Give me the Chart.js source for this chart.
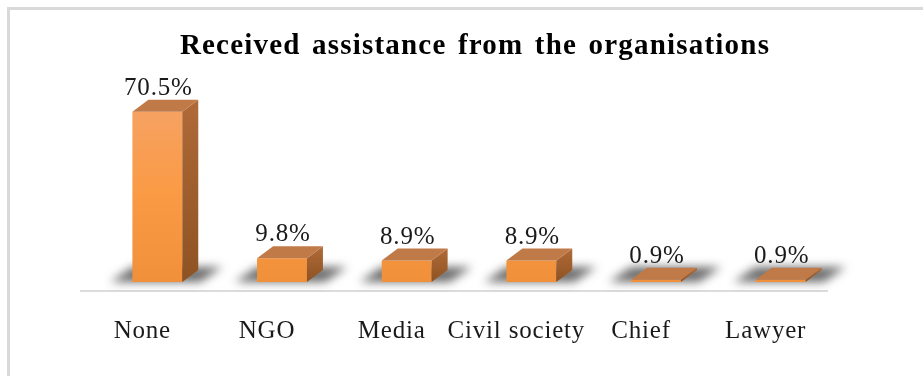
<!DOCTYPE html>
<html>
<head>
<meta charset="utf-8">
<title>Received assistance from the organisations</title>
<script src="https://cdn.jsdelivr.net/npm/chart.js@4"></script>
<style>
  html, body { margin: 0; padding: 0; background: #fff; }
  canvas { display: block; }
</style>
</head>
<body>
<canvas id="barChart" width="923" height="376"></canvas>
<script>
const categories = ['None', 'NGO', 'Media', 'Civil society', 'Chief', 'Lawyer'];
const percentages = [70.5, 9.8, 8.9, 8.9, 0.9, 0.9];
const chartTitle = 'Received assistance from the organisations';

const SERIF = '"Liberation Serif", "Times New Roman", serif';
const SPACING = '0.8px';
const DEPTH_X = 16;
const DEPTH_Y = 12;

// box outline, title, floor, shadows and the extra faces that make the bars look solid
const solidBars = {
  id: 'solidBars',
  beforeLayout(chart) {
    chart.ctx.letterSpacing = SPACING;
  },
  beforeDraw(chart) {
    const ctx = chart.ctx;
    ctx.letterSpacing = SPACING;
    ctx.save();
    ctx.fillStyle = '#d9d9d9';
    ctx.fillRect(7, 7, chart.width - 7, 3);
    ctx.fillRect(7, 7, 3, chart.height - 7);

    ctx.fillStyle = '#000';
    ctx.font = 'bold 29px ' + SERIF;
    ctx.letterSpacing = '1.2px';
    ctx.wordSpacing = '3px';
    ctx.textAlign = 'center';
    ctx.textBaseline = 'middle';
    ctx.fillText(chartTitle, 475, 47);
    ctx.restore();
  },
  beforeDatasetsDraw(chart) {
    const ctx = chart.ctx;
    const xs = chart.scales.x;
    const bottom = chart.chartArea.bottom;
    ctx.save();
    // floor line
    ctx.strokeStyle = '#dcdcdc';
    ctx.lineWidth = 2;
    ctx.beginPath();
    ctx.moveTo(xs.left - 15, bottom + 9);
    ctx.lineTo(xs.right - 15, bottom + 9);
    ctx.stroke();
    // soft shadows behind each bar
    ctx.filter = 'blur(5px)';
    ctx.fillStyle = 'rgba(45,45,45,0.7)';
    chart.getDatasetMeta(0).data.forEach(bar => {
      const l = bar.x - bar.width / 2;
      const r = bar.x + bar.width / 2;
      ctx.beginPath();
      ctx.moveTo(l - 22, bottom);
      ctx.lineTo(r + DEPTH_X + 2, bottom);
      ctx.lineTo(r + DEPTH_X + 24, bottom - DEPTH_Y - 3);
      ctx.lineTo(l, bottom - DEPTH_Y - 3);
      ctx.closePath();
      ctx.fill();
    });
    ctx.restore();
  },
  afterDatasetsDraw(chart) {
    const ctx = chart.ctx;
    const bottom = chart.chartArea.bottom;
    const values = chart.data.datasets[0].data;
    ctx.save();
    chart.getDatasetMeta(0).data.forEach((bar, i) => {
      const l = bar.x - bar.width / 2;
      const r = bar.x + bar.width / 2;
      const top = bar.y;
      // side face
      const side = ctx.createLinearGradient(0, top - DEPTH_Y, 0, bottom);
      side.addColorStop(0, '#b06a38');
      side.addColorStop(1, '#8e5222');
      ctx.fillStyle = side;
      ctx.beginPath();
      ctx.moveTo(r, top);
      ctx.lineTo(r + DEPTH_X, top - DEPTH_Y);
      ctx.lineTo(r + DEPTH_X, bottom - DEPTH_Y);
      ctx.lineTo(r, bottom);
      ctx.closePath();
      ctx.fill();
      // top face
      ctx.fillStyle = '#c07a48';
      ctx.beginPath();
      ctx.moveTo(l, top);
      ctx.lineTo(r, top);
      ctx.lineTo(r + DEPTH_X, top - DEPTH_Y);
      ctx.lineTo(l + DEPTH_X, top - DEPTH_Y);
      ctx.closePath();
      ctx.fill();
      // value label
      ctx.fillStyle = '#1a1a1a';
      ctx.font = '25px ' + SERIF;
      ctx.letterSpacing = SPACING;
      ctx.textAlign = 'center';
      ctx.textBaseline = 'bottom';
      ctx.fillText(values[i].toFixed(1) + '%', bar.x + 1, top - DEPTH_Y + 1);
    });
    ctx.restore();
  }
};

new Chart(document.getElementById('barChart'), {
  type: 'bar',
  data: {
    labels: categories,
    datasets: [{
      data: percentages,
      borderWidth: 0,
      backgroundColor(c) {
        const area = c.chart.chartArea;
        if (!area) return '#f79646';
        const g = c.chart.ctx.createLinearGradient(0, area.top, 0, area.bottom);
        g.addColorStop(0, '#f6a263');
        g.addColorStop(0.5, '#fa9a44');
        g.addColorStop(1, '#f0903a');
        return g;
      },
      categoryPercentage: 1,
      barPercentage: 0.4
    }]
  },
  options: {
    responsive: false,
    animation: false,
    events: [],
    layout: { padding: { top: 108, left: 95, right: 80, bottom: 0 } },
    plugins: {
      legend: { display: false },
      tooltip: { enabled: false },
      title: { display: false }
    },
    scales: {
      x: {
        grid: { display: false, drawTicks: false },
        border: { display: false },
        ticks: {
          color: '#1a1a1a',
          font: { family: SERIF, size: 25 },
          padding: 34,
          labelOffset: -15,
          maxRotation: 0,
          autoSkip: false
        },
        afterFit(scale) { scale.height = 94; }
      },
      y: {
        display: false,
        min: 0,
        max: 72
      }
    }
  },
  plugins: [solidBars]
});
</script>
</body>
</html>
